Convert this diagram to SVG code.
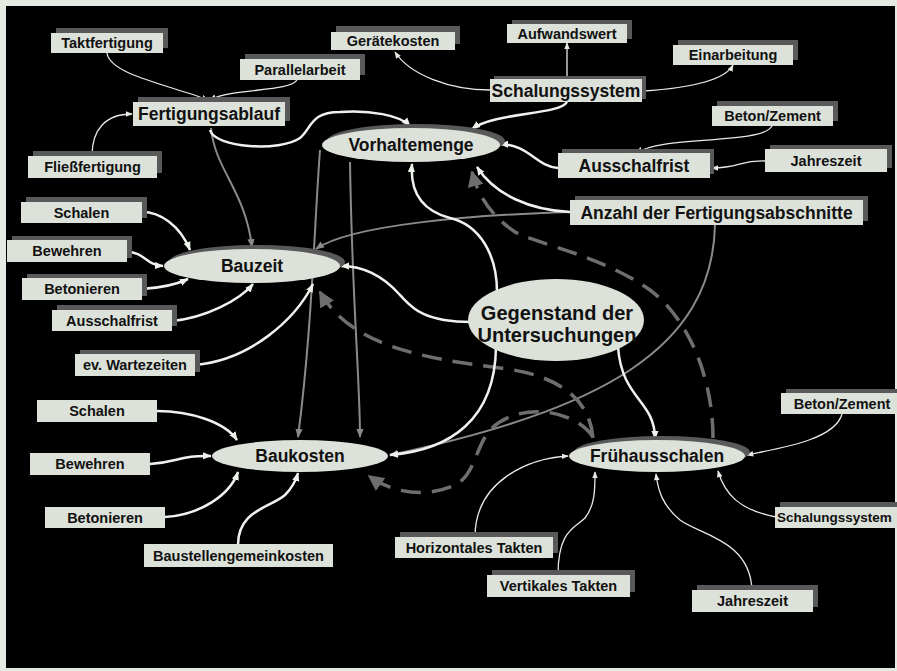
<svg xmlns="http://www.w3.org/2000/svg" width="897" height="671" viewBox="0 0 897 671">
<style>
.box{fill:#dce2d9}
.sh{fill:#595959}
.t{font-family:"Liberation Sans",Arial,sans-serif;font-weight:bold;fill:#111;text-anchor:middle}
.s{font-size:14.5px}
.l{font-size:17.5px}
.w{fill:none;stroke:#eef2ec;stroke-width:2.5}
.wt{fill:none;stroke:#e6ebe4;stroke-width:1.3}
.g{fill:none;stroke:#8a8a8a;stroke-width:2}
.d{fill:none;stroke:#6e6e6e;stroke-width:3.5;stroke-dasharray:20 11}
</style>
<defs>
<marker id="aw" viewBox="0 0 10 10" refX="9" refY="5" markerWidth="9" markerHeight="9" orient="auto" markerUnits="userSpaceOnUse"><path d="M0,1 L10,5 L0,9 z" fill="#eef2ec"/></marker>
<marker id="at" viewBox="0 0 10 10" refX="9" refY="5" markerWidth="7" markerHeight="7" orient="auto" markerUnits="userSpaceOnUse"><path d="M0,1 L10,5 L0,9 z" fill="#e6ebe4"/></marker>
<marker id="ag" viewBox="0 0 10 10" refX="9" refY="5" markerWidth="9" markerHeight="9" orient="auto" markerUnits="userSpaceOnUse"><path d="M0,1 L10,5 L0,9 z" fill="#8a8a8a"/></marker>
<marker id="ad" viewBox="0 0 10 10" refX="9" refY="5" markerWidth="16" markerHeight="16" orient="auto" markerUnits="userSpaceOnUse"><path d="M0,0 L10,5 L0,10 z" fill="#6e6e6e"/></marker>
</defs>
<rect x="0" y="0" width="897" height="671" fill="#e4e9e2"/>
<rect x="6" y="6" width="889" height="662" fill="#000"/>

<g id="connectors">
<!-- gray solid -->
<path class="g" d="M211,128 C215,170 245,190 252,247" marker-end="url(#ag)"/>
<path class="g" d="M570,212 C470,215 350,225 316,249" marker-end="url(#ag)"/>
<path class="g" d="M320,150 C314,230 312,330 298,437" marker-end="url(#ag)"/>
<path class="g" d="M350,162 C352,300 360,380 360,437" marker-end="url(#ag)"/>
<path class="g" d="M715,225 C712,350 600,410 390,455" marker-end="url(#ag)"/>
<!-- dashed -->
<path class="d" d="M593,438 C590,400 560,375 500,368 C420,358 350,345 320,292" marker-end="url(#ad)"/>
<path class="d" d="M713,438 C713,380 690,320 650,290 C600,255 540,245 515,232 C490,215 478,195 472,172" marker-end="url(#ad)"/>
<path class="d" d="M593,437 C575,410 520,400 490,430 C475,448 475,475 455,485 C430,497 395,495 369,476" marker-end="url(#ad)"/>
<!-- thin white -->
<path class="wt" d="M107,53 C110,75 170,85 208,100" marker-end="url(#at)"/>
<path class="wt" d="M297,80 C290,92 232,88 210,100" marker-end="url(#at)"/>
<path class="wt" d="M92,156 C92,130 105,114 132,114" marker-end="url(#at)"/>
<path class="wt" d="M490,90 C450,90 410,75 395,52" marker-end="url(#at)"/>
<path class="wt" d="M567,79 L567,43" marker-end="url(#at)"/>
<path class="wt" d="M643,91 C690,88 725,80 733,65" marker-end="url(#at)"/>
<path class="wt" d="M772,126 C762,145 660,135 637,153" marker-end="url(#at)"/>
<path class="wt" d="M765,161 C740,160 740,168 712,168" marker-end="url(#at)"/>
<path class="wt" d="M842,414 C835,440 780,448 747,455" marker-end="url(#at)"/>
<path class="wt" d="M776,517 C740,510 725,495 718,471" marker-end="url(#at)"/>
<path class="wt" d="M752,590 C750,540 700,535 680,520 C662,505 658,490 656,474" marker-end="url(#at)"/>
<path class="wt" d="M558,575 C558,530 575,528 585,518 C595,505 595,490 595,472" marker-end="url(#at)"/>
<path class="wt" d="M475,537 C475,480 530,458 568,456" marker-end="url(#at)"/>
<!-- thick white -->
<path class="w" d="M210,130 C215,148 280,152 300,138 C312,128 310,112 340,112 C370,110 400,115 410,126" marker-end="url(#aw)"/>
<path class="w" d="M567,102 C560,115 495,112 472,129" marker-end="url(#aw)"/>
<path class="w" d="M558,168 C535,166 530,145 500,144" marker-end="url(#aw)"/>
<path class="w" d="M570,212 C530,210 495,195 477,167" marker-end="url(#aw)"/>
<path class="w" d="M471,322 C420,322 410,305 400,295 C385,278 365,266 341,266" marker-end="url(#aw)"/>
<path class="w" d="M497,292 C497,255 480,225 450,218 C420,210 410,190 412,164" marker-end="url(#aw)"/>
<path class="w" d="M496,347 C495,420 450,450 390,455" marker-end="url(#aw)"/>
<path class="w" d="M618,347 C622,400 655,400 655,439" marker-end="url(#aw)"/>
<path class="w" d="M142,212 C160,212 180,225 190,250" marker-end="url(#aw)"/>
<path class="w" d="M127,252 C145,252 145,265 163,266" marker-end="url(#aw)"/>
<path class="w" d="M142,289 C160,288 175,285 188,279" marker-end="url(#aw)"/>
<path class="w" d="M172,321 C205,318 240,300 253,284" marker-end="url(#aw)"/>
<path class="w" d="M195,365 C250,360 295,320 313,284" marker-end="url(#aw)"/>
<path class="w" d="M157,411 C190,411 225,422 237,440" marker-end="url(#aw)"/>
<path class="w" d="M150,464 C180,462 180,455 211,456" marker-end="url(#aw)"/>
<path class="w" d="M165,517 C200,515 230,495 238,472" marker-end="url(#aw)"/>
<path class="w" d="M238,545 C238,510 270,508 285,495 C293,487 296,480 298,473" marker-end="url(#aw)"/>
</g>

<g id="n-taktfertigung"><rect class="sh" x="56" y="28" width="112" height="20"/><rect class="box" x="51" y="33" width="112" height="20"/><text class="t s" x="107" y="48">Taktfertigung</text></g>
<g id="n-parallelarbeit"><rect class="sh" x="245" y="54" width="120" height="21"/><rect class="box" x="240" y="59" width="120" height="21"/><text class="t s" x="300" y="75">Parallelarbeit</text></g>
<g id="n-fertigungsablauf"><rect class="sh" x="138" y="97" width="152" height="24"/><rect class="box" x="133" y="102" width="152" height="24"/><text class="t l" x="209" y="120">Fertigungsablauf</text></g>
<g id="n-fliessfertigung"><rect class="sh" x="33" y="151" width="129" height="22"/><rect class="box" x="28" y="156" width="129" height="22"/><text class="t s" x="92.5" y="172">Fließfertigung</text></g>
<g id="n-schalen1"><rect class="sh" x="26" y="197" width="121" height="21"/><rect class="box" x="21" y="202" width="121" height="21"/><text class="t s" x="81.5" y="218">Schalen</text></g>
<g id="n-bewehren1"><rect class="sh" x="12" y="236" width="120" height="22"/><rect class="box" x="7" y="240" width="120" height="22"/><text class="t s" x="67" y="256">Bewehren</text></g>
<g id="n-betonieren1"><rect class="sh" x="27" y="274" width="120" height="22"/><rect class="box" x="22" y="278" width="120" height="22"/><text class="t s" x="82" y="294">Betonieren</text></g>
<g id="n-ausschalfrist1"><rect class="sh" x="57" y="305" width="120" height="21"/><rect class="box" x="52" y="310" width="120" height="21"/><text class="t s" x="112" y="326">Ausschalfrist</text></g>
<g id="n-wartezeiten"><rect class="sh" x="80" y="350" width="120" height="22"/><rect class="box" x="75" y="354" width="120" height="22"/><text class="t s" x="135" y="370">ev. Wartezeiten</text></g>
<g id="n-geraetekosten"><rect class="sh" x="336" y="26" width="124" height="18"/><rect class="box" x="331" y="32" width="124" height="18"/><text class="t s" x="393" y="46">Gerätekosten</text></g>
<g id="n-aufwandswert"><rect class="sh" x="512" y="20" width="120" height="19"/><rect class="box" x="507" y="24" width="120" height="19"/><text class="t s" x="567" y="39">Aufwandswert</text></g>
<g id="n-einarbeitung"><rect class="sh" x="678" y="40" width="120" height="20"/><rect class="box" x="673" y="45" width="120" height="20"/><text class="t s" x="733" y="60">Einarbeitung</text></g>
<g id="n-schalungssystem1"><rect class="sh" x="494" y="76" width="152" height="23"/><rect class="box" x="490" y="79" width="152" height="23"/><text class="t l" x="566" y="97">Schalungssystem</text></g>
<g id="n-betonzement1"><rect class="sh" x="717" y="101" width="121" height="20"/><rect class="box" x="712" y="106" width="121" height="20"/><text class="t s" x="772.5" y="121">Beton/Zement</text></g>
<g id="n-ausschalfrist2"><rect class="sh" x="562" y="149" width="152" height="25"/><rect class="box" x="558" y="153" width="152" height="25"/><text class="t l" x="634" y="172">Ausschalfrist</text></g>
<g id="n-jahreszeit1"><rect class="sh" x="770" y="145" width="122" height="23"/><rect class="box" x="765" y="149" width="122" height="23"/><text class="t s" x="826" y="166">Jahreszeit</text></g>
<g id="n-anzahl"><rect class="sh" x="575" y="196" width="293" height="25"/><rect class="box" x="570" y="200" width="293" height="25"/><text class="t l" x="716.5" y="219">Anzahl der Fertigungsabschnitte</text></g>
<g id="n-schalen2"><rect class="box" x="37" y="400" width="120" height="22"/><text class="t s" x="97" y="416">Schalen</text></g>
<g id="n-bewehren2"><rect class="box" x="30" y="453" width="120" height="22"/><text class="t s" x="90" y="469">Bewehren</text></g>
<g id="n-betonieren2"><rect class="box" x="45" y="507" width="120" height="21"/><text class="t s" x="105" y="523">Betonieren</text></g>
<g id="n-baustellengemeinkosten"><rect class="box" x="144" y="544" width="189" height="23"/><text class="t s" x="238.5" y="561">Baustellengemeinkosten</text></g>
<g id="n-betonzement2"><rect class="sh" x="786" y="389" width="120" height="21"/><rect class="box" x="781" y="393" width="120" height="21"/><text class="t s" x="842" y="409">Beton/Zement</text></g>
<g id="n-schalungssystem2"><rect class="sh" x="780" y="502" width="130" height="21"/><rect class="box" x="775" y="507" width="130" height="21"/><text class="t" style="font-size:13.5px;text-anchor:start" x="777" y="522">Schalungssystem</text></g>
<g id="n-horizontal"><rect class="sh" x="400" y="532" width="158" height="21"/><rect class="box" x="395" y="537" width="158" height="21"/><text class="t s" x="474" y="553">Horizontales Takten</text></g>
<g id="n-vertikal"><rect class="sh" x="492" y="570" width="143" height="22"/><rect class="box" x="487" y="575" width="143" height="22"/><text class="t s" x="558.5" y="591">Vertikales Takten</text></g>
<g id="n-jahreszeit2"><rect class="sh" x="697" y="585" width="121" height="22"/><rect class="box" x="692" y="590" width="121" height="22"/><text class="t s" x="752.5" y="606">Jahreszeit</text></g>

<g id="n-vorhaltemenge"><ellipse class="sh" cx="416" cy="141" rx="89" ry="17"/><ellipse class="box" cx="411" cy="145" rx="89" ry="17"/><text class="t l" x="411" y="151">Vorhaltemenge</text></g>
<g id="n-bauzeit"><ellipse class="sh" cx="257" cy="262" rx="88" ry="17"/><ellipse class="box" cx="252" cy="266" rx="88" ry="17"/><text class="t l" x="252" y="272">Bauzeit</text></g>
<g id="n-baukosten"><ellipse class="box" cx="300" cy="456" rx="88" ry="16"/><text class="t l" x="300" y="462">Baukosten</text></g>
<g id="n-fruehausschalen"><ellipse class="sh" cx="662" cy="452" rx="88" ry="16"/><ellipse class="box" cx="657" cy="456" rx="88" ry="16"/><text class="t l" x="657" y="462">Frühausschalen</text></g>
<g id="n-gegenstand"><ellipse class="box" cx="556" cy="320" rx="88" ry="41"/><text class="t" style="font-size:20px" x="557" y="320">Gegenstand der</text><text class="t" style="font-size:20px" x="557" y="342">Untersuchungen</text></g>
</svg>
